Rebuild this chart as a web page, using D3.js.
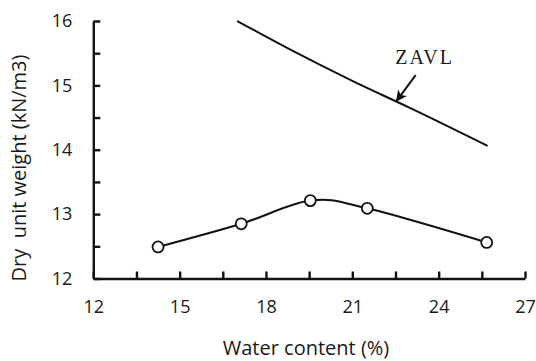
<!DOCTYPE html>
<html>
<head>
<meta charset="utf-8">
<script src="https://cdn.jsdelivr.net/npm/d3@7"></script>
<style>
  html, body { margin: 0; padding: 0; background: #fff; }
  svg { display: block; }
  text { fill: #1a1a1a; }
</style>
</head>
<body>
<svg id="chart" width="536" height="361"></svg>
<script>
// Compaction curve: water content (%) vs dry unit weight (kN/m3)
const waterContent = [14.25, 17.14, 19.54, 21.52, 25.67];
const dryUnitWeight = [12.49, 12.85, 13.21, 13.09, 12.56];

// Zero air voids line
const zavlWater = [17.0, 19.0, 21.0, 23.0, 25.7];
const zavlWeight = [16.0, 15.52, 15.07, 14.65, 14.06];

const xTicks = [12, 15, 18, 21, 24, 27];
const yTicks = [12, 13, 14, 15, 16];
const xMinorTicks = [13.5, 16.5, 19.5, 22.5, 25.5];
const yMinorTicks = [12.5, 13.5, 14.5, 15.5];

const svg = d3.select("#chart");
const x = d3.scaleLinear().domain([12, 27]).range([93.3, 525]);
const y = d3.scaleLinear().domain([12, 16]).range([278.5, 21]);

const axisColor = "#111";
const sansFont = "'Open Sans', sans-serif";

// Axes with inward ticks
const xAxis = svg.append("g").attr("transform", `translate(0,${y(12)})`)
  .call(d3.axisBottom(x).tickValues(xTicks).tickFormat(d3.format("d"))
    .tickSize(-7).tickPadding(22).tickSizeOuter(0));
const yAxis = svg.append("g").attr("transform", `translate(${x(12)},0)`)
  .call(d3.axisLeft(y).tickValues(yTicks).tickFormat(d3.format("d"))
    .tickSize(-7).tickPadding(21).tickSizeOuter(0));

svg.append("g").attr("transform", `translate(0,${y(12)})`)
  .call(d3.axisBottom(x).tickValues(xMinorTicks).tickSize(-7).tickFormat("").tickSizeOuter(0))
  .select(".domain").remove();
svg.append("g").attr("transform", `translate(${x(12)},0)`)
  .call(d3.axisLeft(y).tickValues(yMinorTicks).tickSize(-7).tickFormat("").tickSizeOuter(0))
  .select(".domain").remove();

svg.selectAll(".domain, .tick line")
  .attr("stroke", axisColor).attr("stroke-width", 2.4);
svg.selectAll(".tick text")
  .attr("font-family", sansFont).attr("font-size", 18).attr("fill", "#1a1a1a");

// Axis titles
svg.append("text")
  .attr("x", 306).attr("y", 355)
  .attr("text-anchor", "middle")
  .attr("font-family", sansFont).attr("font-size", 20)
  .text("Water content (%)");
svg.append("text")
  .attr("transform", `translate(26,168) rotate(-90)`)
  .attr("text-anchor", "middle")
  .attr("font-family", sansFont).attr("font-size", 20)
  .style("white-space", "pre")
  .text("Dry  unit weight (kN/m3)");

// ZAVL line
const zavl = zavlWater.map((w, i) => [w, zavlWeight[i]]);
svg.append("path")
  .datum(zavl)
  .attr("fill", "none").attr("stroke", "#111").attr("stroke-width", 2)
  .attr("d", d3.line().x(d => x(d[0])).y(d => y(d[1])).curve(d3.curveMonotoneX));

// Compaction curve
const pts = waterContent.map((w, i) => [w, dryUnitWeight[i]]);
svg.append("path")
  .datum(pts)
  .attr("fill", "none").attr("stroke", "#111").attr("stroke-width", 2)
  .attr("d", d3.line().x(d => x(d[0])).y(d => y(d[1])).curve(d3.curveCardinal.tension(0)));
svg.selectAll("circle.pt").data(pts).enter().append("circle")
  .attr("class", "pt")
  .attr("cx", d => x(d[0])).attr("cy", d => y(d[1]))
  .attr("r", 5.5)
  .attr("fill", "#fff").attr("stroke", "#111").attr("stroke-width", 1.8);

// ZAVL annotation with arrow
svg.append("defs").append("marker")
  .attr("id", "arrowhead")
  .attr("viewBox", "0 0 10 10").attr("refX", 9).attr("refY", 5)
  .attr("markerWidth", 5.5).attr("markerHeight", 5.5)
  .attr("markerUnits", "strokeWidth")
  .attr("orient", "auto")
  .append("path").attr("d", "M0,0 L10,5 L0,10 L2.5,5 Z").attr("fill", "#111");

svg.append("line")
  .attr("x1", x(23.2)).attr("y1", y(15.16))
  .attr("x2", x(22.54)).attr("y2", y(14.76))
  .attr("stroke", "#111").attr("stroke-width", 2)
  .attr("marker-end", "url(#arrowhead)");

svg.append("text")
  .attr("x", x(22.49)).attr("y", y(15.33))
  .attr("font-family", "'Liberation Serif', 'Times New Roman', serif")
  .attr("font-size", 20)
  .attr("letter-spacing", 2)
  .attr("fill", "#222")
  .text("ZAVL");
</script>
</body>
</html>
